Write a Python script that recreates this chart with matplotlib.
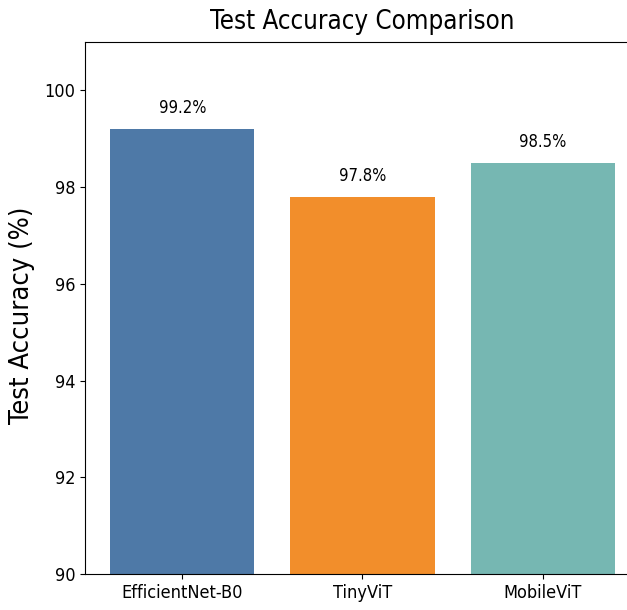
import matplotlib.pyplot as plt

models = ["EfficientNet-B0", "TinyViT", "MobileViT"]
accuracy = [99.2, 97.8, 98.5]
colors = ["#4e79a7", "#f28e2b", "#76b7b2"]

plt.rcParams["font.family"] = "DejaVu Sans"
plt.rcParams["font.stretch"] = "condensed"

fig = plt.figure(figsize=(6.27, 6.10), dpi=100)
ax = fig.add_axes([0.1356, 0.059, 0.885, 0.872])

bars = ax.bar(models, accuracy, color=colors, width=0.8)
for b, v in zip(bars, accuracy):
    ax.text(b.get_x() + b.get_width() / 2, v + 0.25, f"{v}%",
            ha="center", va="bottom", fontsize=12)

ax.set_ylim(90, 101)
ax.set_ylabel("Test Accuracy (%)", fontsize=19.5)
ax.yaxis.set_label_coords(-0.09, 0.487)
ax.set_title("Test Accuracy Comparison", fontsize=18.5, pad=9.5)
ax.tick_params(labelsize=13)

fig.savefig("out.png", dpi=100)
